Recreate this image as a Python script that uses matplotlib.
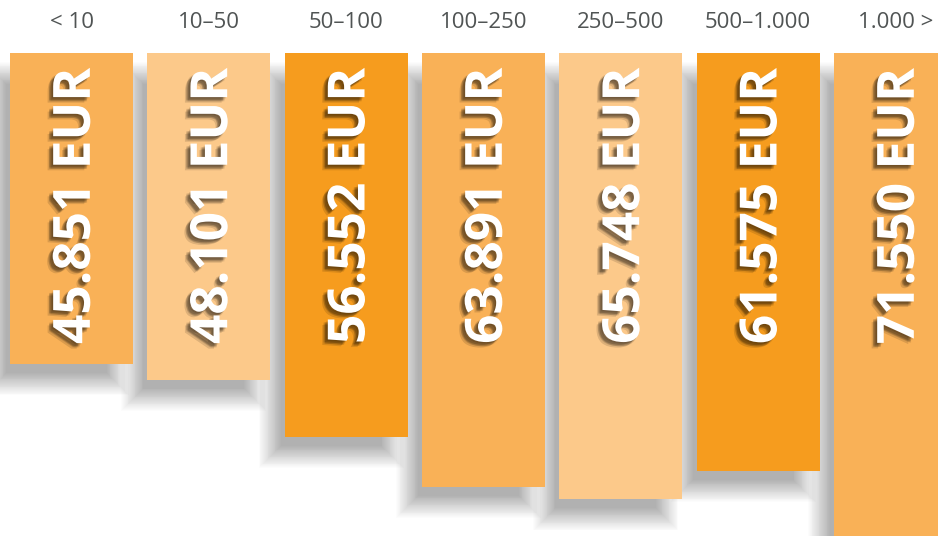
import matplotlib
matplotlib.use("Agg")
import matplotlib.pyplot as plt
import matplotlib.patheffects as pe
from matplotlib.patches import Rectangle
from matplotlib import transforms

categories = ["< 10", "10–50", "50–100", "100–250", "250–500", "500–1.000", "1.000 >"]
values = [45851, 48101, 56552, 63891, 65748, 61575, 71550]
value_labels = ["45.851 EUR", "48.101 EUR", "56.552 EUR", "63.891 EUR",
                "65.748 EUR", "61.575 EUR", "71.550 EUR"]
colors = ["#F9B157", "#FCC98A", "#F69C1E", "#F9B157", "#FCC98A", "#F69C1E", "#F9B157"]

W, H = 938, 536
PX_X = 137.33          # pixels per category step
PX_Y = 0.00679         # pixels per EUR
TOP = 53               # pixel row where bars start
BAR_W = 0.895

fig = plt.figure(figsize=(W / 100, H / 100), dpi=100)
ax = fig.add_axes([0, 0, 1, 1])
ax.set_xlim(-71.5 / PX_X, -71.5 / PX_X + W / PX_X)
ax.set_ylim((H - TOP) / PX_Y, -TOP / PX_Y)
ax.axis("off")

px_x = 1 / PX_X
px_y = 1 / PX_Y

# soft drop shadows (stacked translucent rectangles)
sh_dx, sh_dy = -15 * px_x, 20 * px_y
layers = 26
for i, v in enumerate(values):
    x0 = i - BAR_W / 2 + sh_dx
    for k in range(layers):
        e = -11 + 22 * k / (layers - 1)
        ax.add_patch(Rectangle((x0 - e * px_x, sh_dy - e * px_y),
                               BAR_W + 2 * e * px_x, v + 2 * e * px_y,
                               facecolor="black", edgecolor="none", alpha=0.0105, zorder=1))

ax.bar(range(len(values)), values, width=BAR_W, bottom=0, color=colors, zorder=2)

fs = 37
off = transforms.offset_copy(ax.transData, fig=fig, x=fs * 0.714 / 2, y=0, units="points")
shadow = [pe.SimplePatchShadow(offset=(dx, dy), shadow_rgbFace="black", alpha=0.12)
          for dx, dy in [(-1, -1), (-2, -2), (-3, -3), (-2, -3), (-3, -2), (-4, -4)]]
for i, lab in enumerate(value_labels):
    ax.text(i, 15 * px_y, lab, rotation=90, rotation_mode="anchor",
            ha="right", va="baseline", color="white", fontsize=fs,
            fontweight="bold", family="Open Sans", transform=off, zorder=3,
            path_effects=shadow + [pe.Normal()])

for i, c in enumerate(categories):
    ax.text(i, -31 * px_y, c, ha="center", va="center", fontsize=16,
            color="#505454", family="Open Sans")

fig.savefig("out.png", dpi=100)
